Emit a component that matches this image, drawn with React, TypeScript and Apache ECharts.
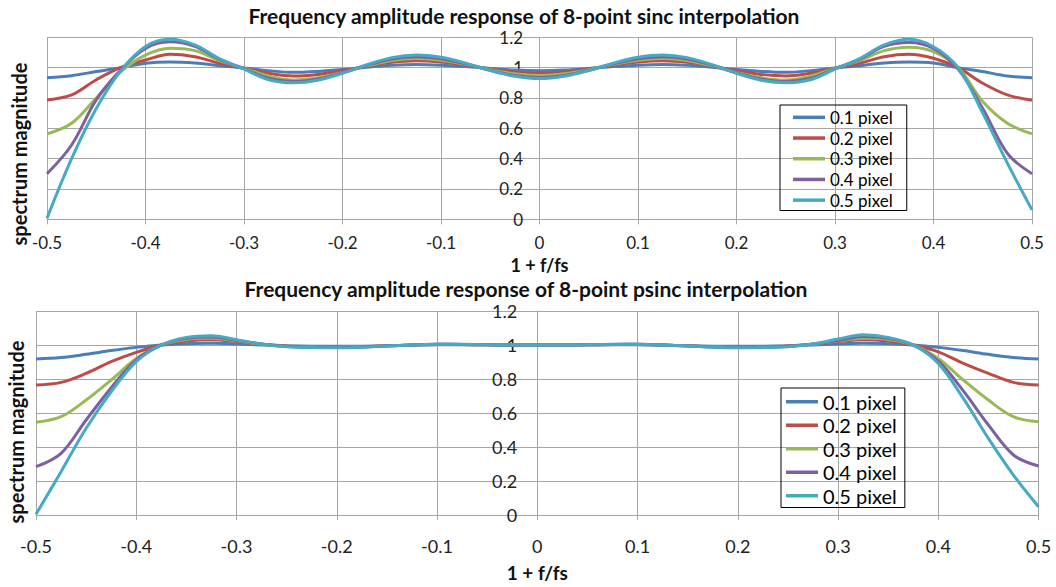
import React, { useEffect, useRef } from "react";
import * as echarts from "echarts";

// Normalised frequency (1 + f/fs) sampling points shared by all curves
const FREQ = [
  -0.5, -0.475, -0.45, -0.425, -0.4, -0.375, -0.35, -0.325, -0.3, -0.275,
  -0.25, -0.225, -0.2, -0.175, -0.15, -0.125, -0.1, -0.075, -0.05, -0.025,
  0, 0.025, 0.05, 0.075, 0.1, 0.125, 0.15, 0.175, 0.2, 0.225,
  0.25, 0.275, 0.3, 0.325, 0.35, 0.375, 0.4, 0.425, 0.45, 0.475, 0.5,
];

const SHIFT_NAMES = ["0.1 pixel", "0.2 pixel", "0.3 pixel", "0.4 pixel", "0.5 pixel"];
const SHIFT_COLORS = ["#4A7EBB", "#BE4B48", "#98B954", "#7D60A0", "#46AAC5"];

// 8-point sinc interpolation: spectrum magnitude per fractional shift
const SINC_01 = [
  0.934, 0.947, 0.974, 1.0, 1.029, 1.037, 1.03, 1.013, 0.998, 0.98,
  0.969, 0.975, 0.987, 1.003, 1.015, 1.02, 1.016, 1.007, 0.995, 0.984,
  0.98, 0.984, 0.995, 1.007, 1.016, 1.02, 1.015, 1.003, 0.987, 0.975,
  0.969, 0.98, 0.998, 1.013, 1.03, 1.037, 1.03, 1.0, 0.974, 0.945, 0.934,
];
const SINC_02 = [
  0.787, 0.82, 0.92, 1.002, 1.05, 1.088, 1.072, 1.029, 0.996, 0.963,
  0.945, 0.955, 0.98, 1.01, 1.035, 1.045, 1.037, 1.017, 0.991, 0.971,
  0.963, 0.971, 0.991, 1.017, 1.037, 1.045, 1.035, 1.01, 0.98, 0.955,
  0.945, 0.963, 0.996, 1.029, 1.072, 1.088, 1.062, 1.0, 0.897, 0.82, 0.785,
];
const SINC_03 = [
  0.563, 0.633, 0.8, 0.974, 1.083, 1.128, 1.112, 1.046, 0.996, 0.945,
  0.919, 0.933, 0.968, 1.012, 1.047, 1.06, 1.049, 1.022, 0.986, 0.959,
  0.948, 0.959, 0.986, 1.022, 1.049, 1.06, 1.047, 1.012, 0.968, 0.933,
  0.919, 0.945, 0.996, 1.046, 1.112, 1.135, 1.105, 1.0, 0.776, 0.633, 0.563,
];
const SINC_04 = [
  0.3, 0.49, 0.787, 0.985, 1.127, 1.17, 1.14, 1.055, 0.993, 0.93,
  0.908, 0.925, 0.966, 1.016, 1.057, 1.072, 1.059, 1.025, 0.982, 0.948,
  0.935, 0.948, 0.982, 1.025, 1.059, 1.072, 1.057, 1.016, 0.966, 0.925,
  0.908, 0.93, 0.993, 1.055, 1.14, 1.165, 1.127, 0.99, 0.73, 0.435, 0.3,
];
const SINC_05 = [
  0.007, 0.4, 0.73, 0.98, 1.14, 1.187, 1.15, 1.06, 0.99, 0.92,
  0.9, 0.917, 0.963, 1.02, 1.066, 1.083, 1.068, 1.03, 0.981, 0.943,
  0.928, 0.943, 0.981, 1.03, 1.068, 1.083, 1.066, 1.02, 0.963, 0.917,
  0.9, 0.92, 0.99, 1.06, 1.15, 1.187, 1.138, 1.0, 0.7, 0.37, 0.062,
];

// 8-point psinc interpolation: spectrum magnitude per fractional shift
const PSINC_01 = [
  0.918, 0.926, 0.945, 0.967, 0.986, 1.0, 1.008, 1.01, 1.006, 1.0,
  0.996, 0.993, 0.992, 0.993, 0.996, 0.999, 1.002, 1.002, 1.001, 1.0,
  1.0, 1.0, 1.001, 1.002, 1.002, 0.999, 0.996, 0.993, 0.992, 0.993,
  0.996, 1.0, 1.006, 1.01, 1.008, 1.0, 0.986, 0.967, 0.945, 0.927, 0.918,
];
const PSINC_02 = [
  0.765, 0.78, 0.833, 0.902, 0.957, 1.0, 1.024, 1.031, 1.02, 1.004,
  0.994, 0.99, 0.988, 0.99, 0.995, 1.0, 1.003, 1.003, 1.001, 1.0,
  1.0, 1.0, 1.001, 1.003, 1.003, 1.0, 0.995, 0.99, 0.988, 0.99,
  0.994, 1.004, 1.02, 1.031, 1.024, 1.0, 0.96, 0.892, 0.833, 0.78, 0.765,
];
const PSINC_03 = [
  0.545, 0.578, 0.676, 0.794, 0.92, 1.0, 1.033, 1.039, 1.025, 1.004,
  0.992, 0.988, 0.987, 0.99, 0.995, 1.0, 1.004, 1.003, 1.001, 1.0,
  1.0, 1.0, 1.001, 1.003, 1.004, 1.0, 0.995, 0.99, 0.987, 0.988,
  0.992, 1.004, 1.025, 1.039, 1.033, 1.0, 0.92, 0.794, 0.676, 0.578, 0.549,
];
const PSINC_04 = [
  0.284, 0.363, 0.559, 0.749, 0.912, 1.0, 1.039, 1.047, 1.027, 1.006,
  0.992, 0.987, 0.986, 0.989, 0.995, 1.0, 1.004, 1.003, 1.001, 1.0,
  1.0, 1.0, 1.001, 1.003, 1.004, 1.0, 0.995, 0.989, 0.986, 0.987,
  0.992, 1.006, 1.027, 1.05, 1.039, 1.0, 0.906, 0.73, 0.53, 0.353, 0.288,
];
const PSINC_05 = [
  0.004, 0.255, 0.51, 0.725, 0.902, 1.0, 1.045, 1.055, 1.031, 1.006,
  0.99, 0.985, 0.984, 0.987, 0.994, 1.0, 1.005, 1.004, 1.001, 1.0,
  1.0, 1.0, 1.001, 1.004, 1.005, 1.0, 0.994, 0.987, 0.984, 0.985,
  0.99, 1.006, 1.035, 1.06, 1.045, 1.0, 0.892, 0.686, 0.451, 0.235, 0.049,
];

const SINC_SERIES = [SINC_01, SINC_02, SINC_03, SINC_04, SINC_05];
const PSINC_SERIES = [PSINC_01, PSINC_02, PSINC_03, PSINC_04, PSINC_05];

const TITLES = [
  "Frequency amplitude response of 8-point sinc interpolation",
  "Frequency amplitude response of 8-point psinc interpolation",
];
const X_NAME = "1 + f/fs";
const Y_NAME = "spectrum magnitude";

const FONT = "Lato, 'Noto Sans', sans-serif";
const GRID_GRAY = "#A6A6A6";

function buildOption() {
  const grids = [
    { left: 47, top: 37.3, width: 985, height: 182 },
    { left: 36, top: 311, width: 1002.5, height: 204 },
  ];
  const labelSizes = [17, 18];
  const xLabelMargins = [15, 21.5];
  const yLabelMargins = [16.5, 20];
  const xNameGaps = [37, 47.5];
  const xNameSizes = [18, 19];

  const xAxis = grids.map((_, i) => ({
    type: "value",
    gridIndex: i,
    min: -0.5,
    max: 0.5,
    interval: 0.1,
    name: X_NAME,
    nameLocation: "middle",
    nameGap: xNameGaps[i],
    nameTextStyle: {
      fontFamily: FONT, fontWeight: "bold", fontSize: xNameSizes[i], color: "#111",
      lineHeight: xNameSizes[i],
    },
    axisLine: { show: true, onZero: false, lineStyle: { color: GRID_GRAY, width: 1 } },
    axisTick: { show: true, length: 5, lineStyle: { color: GRID_GRAY } },
    axisLabel: {
      fontFamily: FONT, fontSize: labelSizes[i], color: "#222", margin: xLabelMargins[i],
      lineHeight: labelSizes[i],
    },
    splitLine: { show: true, lineStyle: { color: GRID_GRAY, width: 1 } },
  }));

  // The vertical axis sits on the f = 0 line, in the middle of each plot
  const yAxis = grids.map((g, i) => ({
    type: "value",
    gridIndex: i,
    position: "left",
    offset: -(g.width / 2),
    min: 0,
    max: 1.2,
    interval: 0.2,
    axisLine: { show: true, onZero: false, lineStyle: { color: GRID_GRAY, width: 1 } },
    axisTick: { show: false },
    axisLabel: {
      fontFamily: FONT, fontSize: labelSizes[i], color: "#222", margin: yLabelMargins[i],
      lineHeight: labelSizes[i],
    },
    splitLine: { show: true, lineStyle: { color: GRID_GRAY, width: 1 } },
  }));

  const series: any[] = [];
  [SINC_SERIES, PSINC_SERIES].forEach((group, gi) => {
    group.forEach((values, si) => {
      series.push({
        type: "line",
        name: SHIFT_NAMES[si],
        xAxisIndex: gi,
        yAxisIndex: gi,
        data: FREQ.map((f, k) => [f, values[k]]),
        symbol: "none",
        smooth: 0.35,
        lineStyle: { color: SHIFT_COLORS[si], width: 3 },
        itemStyle: { color: SHIFT_COLORS[si] },
        z: 2 + si,
      });
    });
  });

  const legendBase = {
    orient: "vertical",
    data: SHIFT_NAMES,
    icon: "rect",
    itemHeight: 3.5,
    itemWidth: 32,
    itemGap: 0,
    borderColor: "#000",
    borderWidth: 1,
    borderRadius: 0,
    backgroundColor: "transparent",
    selectedMode: false,
  };
  const legend = [
    {
      ...legendBase,
      left: 780,
      top: 105,
      padding: [2, 14, 0, 13],
      textStyle: { fontFamily: FONT, fontSize: 17, color: "#000", lineHeight: 20.7 },
    },
    {
      ...legendBase,
      left: 781,
      top: 388,
      padding: [2, 8, 0, 5],
      textStyle: { fontFamily: FONT, fontSize: 20, color: "#000", lineHeight: 23.5 },
    },
  ];

  const titleStyle = { fontFamily: FONT, fontWeight: "bold", fontSize: 21, lineHeight: 21, fill: "#111" };
  const yNameStyle = { fontFamily: FONT, fontWeight: "bold", fontSize: 20, fill: "#111" };
  const graphic = [
    { type: "text", x: 524, y: 15, style: { ...titleStyle, text: TITLES[0], textAlign: "center", textVerticalAlign: "middle" } },
    { type: "text", x: 526, y: 288, style: { ...titleStyle, text: TITLES[1], textAlign: "center", textVerticalAlign: "middle" } },
    {
      type: "text", x: 19, y: 154, rotation: Math.PI / 2,
      style: { ...yNameStyle, text: Y_NAME, textAlign: "center", textVerticalAlign: "middle" },
    },
    {
      type: "text", x: 16, y: 432, rotation: Math.PI / 2,
      style: { ...yNameStyle, text: Y_NAME, textAlign: "center", textVerticalAlign: "middle" },
    },
  ];

  return {
    animation: false,
    backgroundColor: "#fff",
    grid: grids,
    xAxis,
    yAxis,
    series,
    legend,
    graphic,
  };
}

export default function App() {
  const ref = useRef<HTMLDivElement>(null);

  useEffect(() => {
    document.body.style.margin = "0";
    if (!ref.current) return;
    const chart = echarts.init(ref.current, undefined, { renderer: "svg" });
    chart.setOption(buildOption() as any);
    return () => chart.dispose();
  }, []);

  return <div ref={ref} style={{ width: 1056, height: 587 }} />;
}
